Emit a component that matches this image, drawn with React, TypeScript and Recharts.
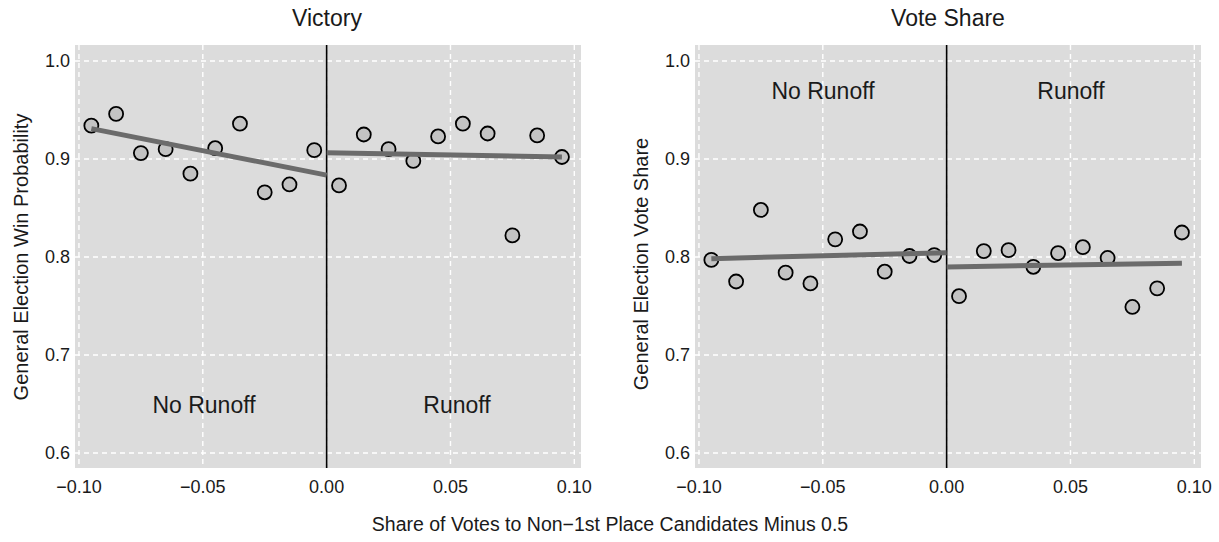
import React from 'react';
import { ComposedChart, Scatter, XAxis, YAxis, CartesianGrid, ReferenceLine } from 'recharts';

// bin centres on the running variable
const binX = [
  -0.095, -0.085, -0.075, -0.065, -0.055, -0.045, -0.035, -0.025, -0.015, -0.005,
  0.005, 0.015, 0.025, 0.035, 0.045, 0.055, 0.065, 0.075, 0.085, 0.095,
];

// binned means
const victoryMeans = [
  0.934, 0.946, 0.906, 0.910, 0.885, 0.911, 0.936, 0.866, 0.874, 0.909,
  0.873, 0.925, 0.910, 0.898, 0.923, 0.936, 0.926, 0.822, 0.924, 0.902,
];
const voteShareMeans = [
  0.797, 0.775, 0.848, 0.784, 0.773, 0.818, 0.826, 0.785, 0.801, 0.802,
  0.760, 0.806, 0.807, 0.790, 0.804, 0.810, 0.799, 0.749, 0.768, 0.825,
];

// fitted lines either side of the cutoff
const victoryFitLeft = [{ x: -0.095, y: 0.931 }, { x: 0, y: 0.8835 }];
const victoryFitRight = [{ x: 0, y: 0.9064 }, { x: 0.095, y: 0.902 }];
const voteFitLeft = [{ x: -0.095, y: 0.7983 }, { x: 0, y: 0.8044 }];
const voteFitRight = [{ x: 0, y: 0.7899 }, { x: 0.095, y: 0.7937 }];

const xTicks = [-0.1, -0.05, 0, 0.05, 0.1];
const yTicks = [0.6, 0.7, 0.8, 0.9, 1.0];

const FONT = '"Liberation Sans", Arial, Helvetica, sans-serif';
const TEXT = '#1a1a1a';

const fmtX = (v: number) => (v < 0 ? '\u2212' + Math.abs(v).toFixed(2) : v.toFixed(2));
const fmtY = (v: number) => v.toFixed(1);

const Dot = (props: any) => (
  <circle cx={props.cx} cy={props.cy} r={7} fill="#c3c3c3" stroke="#000" strokeWidth={1.8} />
);
const NoDot = () => null;

interface PanelProps {
  means: number[];
  fitLeft: { x: number; y: number }[];
  fitRight: { x: number; y: number }[];
}

const Panel = ({ means, fitLeft, fitRight }: PanelProps) => {
  const points = binX.map((x, i) => ({ x, y: means[i] }));
  return (
    <ComposedChart width={599} height={542} margin={{ top: 45, right: 18, left: 0, bottom: 0 }}>
      <CartesianGrid
        fill="#dcdcdc"
        stroke="#ffffff"
        strokeWidth={1.4}
        strokeDasharray="5 4"
        horizontalValues={yTicks}
        verticalValues={xTicks}
      />
      <XAxis
        type="number"
        dataKey="x"
        domain={[-0.1016, 0.1027]}
        ticks={xTicks}
        tickFormatter={fmtX}
        axisLine={false}
        tickLine={false}
        tickSize={0}
        tickMargin={12}
        height={74}
        tick={{ fontSize: 18, fill: TEXT, fontFamily: FONT }}
        allowDataOverflow
      />
      <YAxis
        type="number"
        dataKey="y"
        domain={[0.5847, 1.0163]}
        ticks={yTicks}
        tickFormatter={fmtY}
        axisLine={false}
        tickLine={false}
        tickSize={0}
        tickMargin={5}
        width={75}
        tick={{ fontSize: 18, fill: TEXT, fontFamily: FONT }}
        allowDataOverflow
      />
      <ReferenceLine x={0} stroke="#000" strokeWidth={1.6} />
      <Scatter data={points} shape={<Dot />} isAnimationActive={false} />
      <Scatter data={fitLeft} shape={<NoDot />} line={{ stroke: '#6b6b6b', strokeWidth: 5 }} isAnimationActive={false} />
      <Scatter data={fitRight} shape={<NoDot />} line={{ stroke: '#6b6b6b', strokeWidth: 5 }} isAnimationActive={false} />
    </ComposedChart>
  );
};

export default function App() {
  return (
    <div style={{ position: 'absolute', left: 0, top: 0, width: 1219, height: 542, background: '#fff', fontFamily: FONT }}>
      <div style={{ position: 'absolute', left: 0, top: 0 }}>
        <Panel means={victoryMeans} fitLeft={victoryFitLeft} fitRight={victoryFitRight} />
      </div>
      <div style={{ position: 'absolute', left: 620, top: 0 }}>
        <Panel means={voteShareMeans} fitLeft={voteFitLeft} fitRight={voteFitRight} />
      </div>
      <svg width={1219} height={542} style={{ position: 'absolute', left: 0, top: 0, pointerEvents: 'none' }}>
        <g fontFamily={FONT} fill={TEXT}>
          <text x={327} y={18} fontSize={23} textAnchor="middle" dominantBaseline="central">Victory</text>
          <text x={948} y={18} fontSize={23} textAnchor="middle" dominantBaseline="central">Vote Share</text>
          <text x={204} y={405} fontSize={23} textAnchor="middle" dominantBaseline="central">No Runoff</text>
          <text x={457} y={405} fontSize={23} textAnchor="middle" dominantBaseline="central">Runoff</text>
          <text x={823} y={91} fontSize={23} textAnchor="middle" dominantBaseline="central">No Runoff</text>
          <text x={1071} y={91} fontSize={23} textAnchor="middle" dominantBaseline="central">Runoff</text>
          <text transform="translate(21,257) rotate(-90)" fontSize={20} textAnchor="middle" dominantBaseline="central">
            General Election Win Probability
          </text>
          <text transform="translate(641,264) rotate(-90)" fontSize={20} textAnchor="middle" dominantBaseline="central">
            General Election Vote Share
          </text>
          <text x={610} y={524} fontSize={19.5} textAnchor="middle" dominantBaseline="central">
            Share of Votes to Non{'\u2212'}1st Place Candidates Minus 0.5
          </text>
        </g>
      </svg>
    </div>
  );
}
